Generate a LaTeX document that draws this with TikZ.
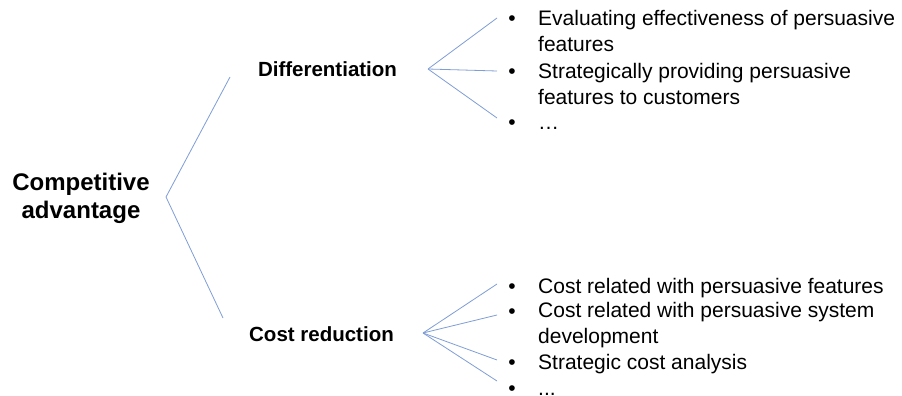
\documentclass[tikz,border=0pt]{standalone}
\usepackage{fontspec}
\setmainfont{Liberation Sans}
\usepackage{xcolor}
\definecolor{CAFork}{HTML}{7F9DD6}
\usepackage{tikz}
\usetikzlibrary{positioning}

\begin{document}
\begin{tikzpicture}[x=1pt,y=-1pt,
  fork/.style={CAFork,line width=0.8pt},
  head/.style={font=\bfseries\fontsize{20.5}{24}\selectfont,inner sep=0pt,anchor=base},
  item/.style={font=\fontsize{21}{26}\selectfont,inner sep=0pt,anchor=base west,align=left},
  bullet/.style={font=\fontsize{21}{26}\selectfont,inner sep=0pt,anchor=base}]
  \useasboundingbox (0,0) rectangle (902,396);
  % root and the two branches
  \node[font=\bfseries\fontsize{24}{28}\selectfont,align=center,inner sep=0pt] (adv) at (81,198) {Competitive\\advantage};
  \node[head] (diff) at (327.5,77) {Differentiation};
  \node[head] (cost) at (321.5,341) {Cost reduction};
  \coordinate (advfork) at (166,197);
  \coordinate (diffin) at (230,77);
  \coordinate (costin) at (223,318);
  \draw[fork] (diffin) -- (advfork) -- (costin);
  % differentiation items (\y = bullet baseline, \z = baseline of last text line)
  \coordinate (difffork) at (428,69);
  \foreach \i/\y/\z/\e/\txt in {1/26/52/18/{Evaluating effectiveness of persuasive\\features},
                               2/78/104/71/{Strategically providing persuasive\\features to customers},
                               3/129/129/118/{…}}{
    \node[bullet] (db\i) at (512,\y) {•};
    \node[item] (dt\i) at (538,\z) {\txt};
    \coordinate (de\i) at (497,\e);
    \draw[fork] (difffork) -- (de\i);
  }
  % cost reduction items
  \coordinate (costfork) at (423,333);
  \foreach \i/\y/\z/\e/\txt in {1/293/293/284/{Cost related with persuasive features},
                               2/318/343/315/{Cost related with persuasive system\\development},
                               3/369/369/360/{Strategic cost analysis},
                               4/395/395/381/{...}}{
    \node[bullet] (cb\i) at (512,\y) {•};
    \node[item] (ct\i) at (538,\z) {\txt};
    \coordinate (ce\i) at (497,\e);
    \draw[fork] (costfork) -- (ce\i);
  }
\end{tikzpicture}
\end{document}
